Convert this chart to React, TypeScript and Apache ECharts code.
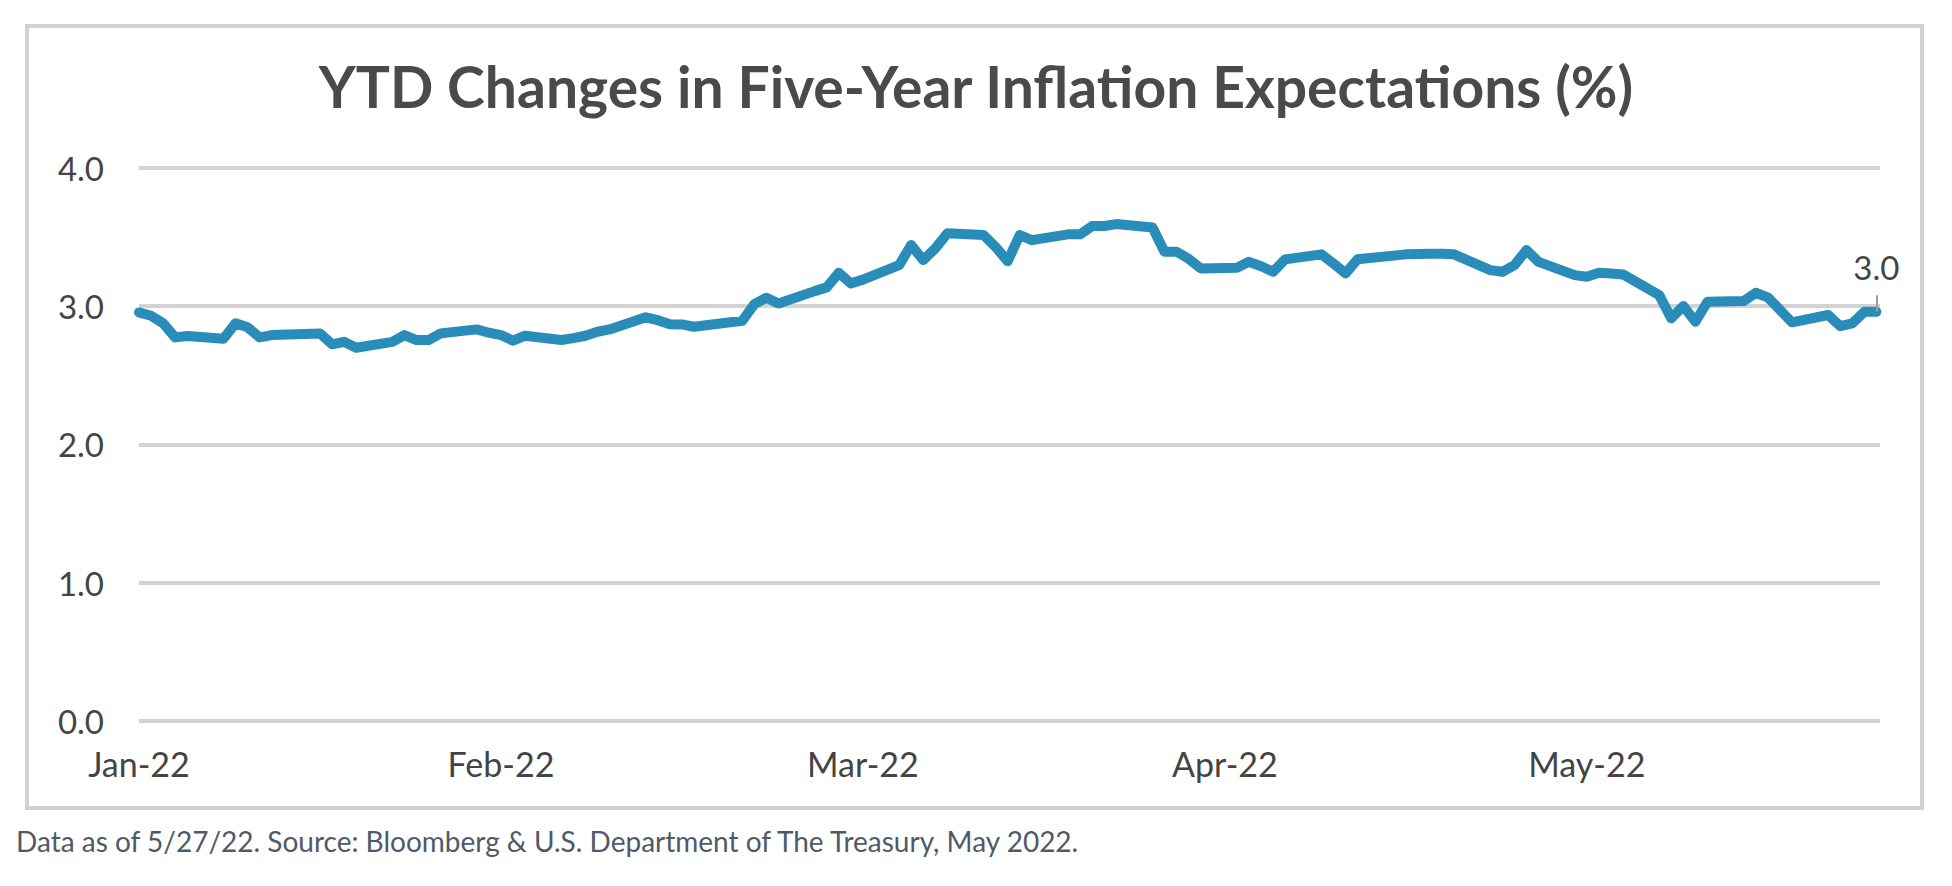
import React, { useEffect, useRef } from "react";
import * as echarts from "echarts";

const TITLE = "YTD Changes in Five-Year Inflation Expectations (%)";
const FOOTNOTE =
  "Data as of 5/27/22. Source: Bloomberg & U.S. Department of The Treasury, May 2022.";

const dates: string[] = [
  "2022-01-03", "2022-01-04", "2022-01-05", "2022-01-06", "2022-01-07",
  "2022-01-10", "2022-01-11", "2022-01-12", "2022-01-13", "2022-01-14",
  "2022-01-18", "2022-01-19", "2022-01-20", "2022-01-21",
  "2022-01-24", "2022-01-25", "2022-01-26", "2022-01-27", "2022-01-28",
  "2022-01-31", "2022-02-01", "2022-02-02", "2022-02-03", "2022-02-04",
  "2022-02-07", "2022-02-08", "2022-02-09", "2022-02-10", "2022-02-11",
  "2022-02-14", "2022-02-15", "2022-02-16", "2022-02-17", "2022-02-18",
  "2022-02-22", "2022-02-23", "2022-02-24", "2022-02-25",
  "2022-02-28", "2022-03-01", "2022-03-02", "2022-03-03", "2022-03-04",
  "2022-03-07", "2022-03-08", "2022-03-09", "2022-03-10", "2022-03-11",
  "2022-03-14", "2022-03-15", "2022-03-16", "2022-03-17", "2022-03-18",
  "2022-03-21", "2022-03-22", "2022-03-23", "2022-03-24", "2022-03-25",
  "2022-03-28", "2022-03-29", "2022-03-30", "2022-03-31", "2022-04-01",
  "2022-04-04", "2022-04-05", "2022-04-06", "2022-04-07", "2022-04-08",
  "2022-04-11", "2022-04-12", "2022-04-13", "2022-04-14",
  "2022-04-18", "2022-04-19", "2022-04-20", "2022-04-21", "2022-04-22",
  "2022-04-25", "2022-04-26", "2022-04-27", "2022-04-28", "2022-04-29",
  "2022-05-02", "2022-05-03", "2022-05-04", "2022-05-05", "2022-05-06",
  "2022-05-09", "2022-05-10", "2022-05-11", "2022-05-12", "2022-05-13",
  "2022-05-16", "2022-05-17", "2022-05-18", "2022-05-19", "2022-05-20",
  "2022-05-23", "2022-05-24", "2022-05-25", "2022-05-26", "2022-05-27",
];

const values: number[] = [
  2.955, 2.931, 2.876, 2.774, 2.784,
  2.764, 2.876, 2.847, 2.774, 2.791,
  2.803, 2.724, 2.742, 2.699,
  2.742, 2.791, 2.755, 2.755, 2.803,
  2.832, 2.808, 2.791, 2.75, 2.786,
  2.755, 2.769, 2.786, 2.815, 2.832,
  2.919, 2.899, 2.87, 2.868, 2.851,
  2.894, 3.015, 3.061, 3.02,
  3.109, 3.136, 3.242, 3.165, 3.192,
  3.297, 3.442, 3.334, 3.418, 3.527,
  3.515, 3.428, 3.326, 3.515, 3.478,
  3.52, 3.52, 3.58, 3.58, 3.594,
  3.57, 3.394, 3.394, 3.343, 3.273,
  3.278, 3.321, 3.289, 3.249, 3.339,
  3.375, 3.309, 3.237, 3.339,
  3.375, 3.377, 3.38, 3.38, 3.375,
  3.261, 3.249, 3.297, 3.406, 3.321,
  3.225, 3.213, 3.242, 3.236, 3.23,
  3.08, 2.912, 3.001, 2.887, 3.032,
  3.037, 3.097, 3.064, 2.974, 2.883,
  2.936, 2.856, 2.876, 2.959, 2.959,
];

// x-axis tick labels, one every 30 days from the first date
const xTickLabels: string[] = ["Jan-22", "Feb-22", "Mar-22", "Apr-22", "May-22"];
const yTicks: number[] = [0, 1, 2, 3, 4];

const DAY = 86400000;
const t0 = Date.parse(dates[0] + "T00:00:00Z");
const dayOffset = (d: string) => Math.round((Date.parse(d + "T00:00:00Z") - t0) / DAY);

export default function App() {
  const ref = useRef<HTMLDivElement>(null);

  useEffect(() => {
    if (!ref.current) return;
    const chart = echarts.init(ref.current, undefined, { renderer: "svg" });
    const points = dates.map((d, i) => [dayOffset(d), values[i]]);
    const last = points[points.length - 1];
    const lastX = last[0];
    const lastV = last[1];

    const option: any = {
      animation: false,
      backgroundColor: "#ffffff",
      title: {
        text: TITLE,
        left: "center",
        top: 57,
        padding: 0,
        textStyle: {
          fontFamily: "Lato",
          fontWeight: "bold",
          fontSize: 57,
          color: "#4a4a4a",
        },
      },
      grid: { left: 139, right: 72, top: 168, bottom: 165.3, containLabel: false },
      xAxis: {
        type: "value",
        min: 0,
        max: 144.3,
        interval: 30,
        axisLine: { show: false },
        axisTick: { show: false },
        splitLine: { show: false },
        axisLabel: {
          margin: 26,
          fontFamily: "Lato",
          fontSize: 34,
          color: "#444444",
          showMaxLabel: false,
          formatter: (v: number) => {
            const k = Math.round(v / 30);
            return Math.abs(v - k * 30) < 1e-6 && xTickLabels[k] ? xTickLabels[k] : "";
          },
        },
      },
      yAxis: {
        type: "value",
        min: yTicks[0],
        max: yTicks[yTicks.length - 1],
        interval: 1,
        axisLine: { show: false },
        axisTick: { show: false },
        splitLine: { lineStyle: { color: "#d3d3d3", width: 4 } },
        axisLabel: {
          margin: 35,
          fontFamily: "Lato",
          fontSize: 33,
          color: "#444444",
          formatter: (v: number) => v.toFixed(1),
        },
      },
      series: [
        {
          type: "line",
          data: points,
          symbol: "none",
          lineStyle: { color: "#2a8cb8", width: 10, cap: "round", join: "round" },
          markLine: {
            silent: true,
            symbol: ["none", "none"],
            lineStyle: { color: "#9b9b9b", width: 2, type: "solid" },
            label: {
              show: true,
              position: "end",
              distance: 12,
              fontFamily: "Lato",
              fontSize: 33,
              color: "#444444",
              formatter: () => lastV.toFixed(1),
            },
            data: [[{ coord: [lastX, lastV] }, { coord: [lastX, lastV + 0.12] }]],
          },
        },
      ],
      graphic: [
        {
          type: "rect",
          shape: { x: 27, y: 26, width: 1895, height: 782 },
          style: { fill: "none", stroke: "#d2d2d2", lineWidth: 4 },
          silent: true,
          z: -1,
        },
        {
          type: "text",
          x: 16,
          y: 841,
          style: {
            text: FOOTNOTE,
            fontFamily: "Lato",
            fontSize: 28,
            fill: "#4f5a68",
            verticalAlign: "middle",
          },
          silent: true,
        },
      ],
    };
    chart.setOption(option);
    return () => chart.dispose();
  }, []);

  return (
    <div
      ref={ref}
      style={{ position: "fixed", left: 0, top: 0, width: 1952, height: 886, background: "#fff" }}
    />
  );
}
